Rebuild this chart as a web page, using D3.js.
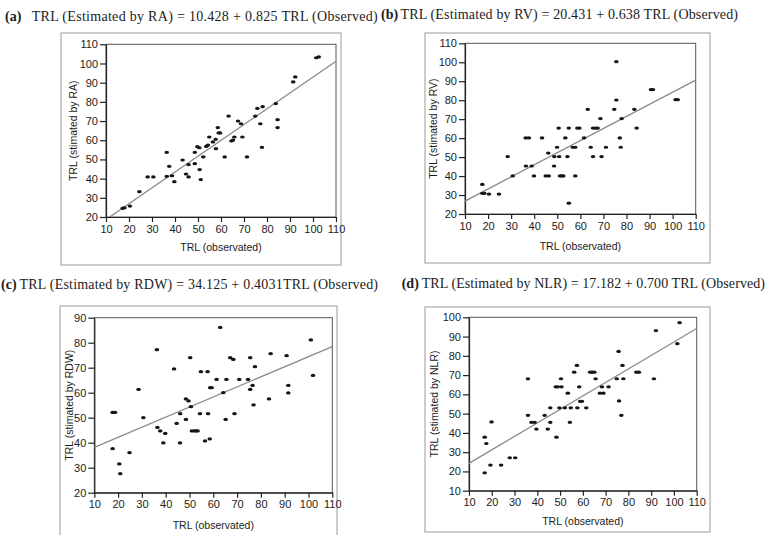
<!DOCTYPE html>
<html>
<head>
<meta charset="utf-8">
<script src="https://cdn.jsdelivr.net/npm/d3@7"></script>
<style>
  body { margin: 0; background: #fff; }
  text { fill: #1c1c1c; }
</style>
</head>
<body>
<div id="chart-area"></div>
<script>
// observed TRL (x) and estimated TRL (y)
var obsA = [17.2, 18, 20.4, 24.5, 28.1, 30.6, 36.4, 36.4, 37.5, 38.7, 39.7, 43.3, 44.8, 45.9, 45.9,
  48.6, 48.6, 49.7, 50.6, 50.7, 51.2, 52.3, 53.6, 54.3, 54.9, 56.5, 57.8, 57.7, 58.6, 59, 59.6,
  61.6, 63.3, 64.5, 65.2, 65.8, 67.4, 68.7, 69.3, 71.3, 74.9, 75.8, 77.1, 77.8, 78.1, 83.8,
  84.6, 84.6, 91.4, 92.3, 101.4, 102.5];
var estA = [24.5, 24.8, 25.7, 33.2, 40.9, 40.9, 53.7, 41.2, 46.4, 41.5, 38.4, 49.7, 42.4, 40.9, 47.3,
  53.7, 47.8, 56.7, 56.1, 44.7, 39.5, 51.3, 56.8, 57.5, 61.7, 59.1, 55.6, 60.5, 66.6, 63.8, 63.8,
  51.3, 72.6, 59.6, 60.1, 61.7, 70, 68.6, 61.7, 51.3, 72.6, 76.6, 68.6, 56.3, 77.5, 79.1,
  70.7, 66.6, 90.4, 93, 103, 103.4];

var obsB = [17.5, 17.5, 18.4, 20.4, 24.7, 28.5, 30.7, 36.3, 37.7, 36.4, 38.9, 39.9, 43.4, 46.1, 45,
  46.3, 48.6, 48.7, 49.9, 50.6, 50.8, 51.2, 52, 52.6, 53.5, 54.4, 55, 55, 56.7, 57.8, 57.8,
  58.7, 59.6, 61.6, 63.2, 64.5, 65.5, 65.5, 66.6, 67.5, 68.7, 69.2, 71.1, 74.7, 75.6, 75.6,
  77.1, 77.5, 77.9, 83.4, 84.4, 90.6, 91.5, 101.3, 102.2];
var estB = [35.6, 30.9, 30.9, 30.5, 30.5, 50.3, 40.1, 60.1, 60.1, 45.3, 45.3, 40.1, 60.1, 52.1, 40.1,
  40.1, 45.3, 50.3, 55.2, 65.3, 50.3, 40.1, 40.1, 40.1, 60.1, 50.3, 65.3, 25.7, 55.2, 55.2, 40.1,
  65.3, 65.3, 60.1, 75.2, 55.2, 50.3, 65.3, 65.3, 65.3, 70.3, 50.3, 55.2, 75.2, 80.1, 100.3,
  60.1, 55.2, 70.3, 75.2, 65.3, 85.6, 85.6, 80.3, 80.3];

var obsC = [17.7, 18.7, 17.7, 20.5, 20.9, 24.8, 28.6, 30.6, 36.3, 36.5, 37.7, 39, 39.8, 43.5, 44.6,
  46, 46.1, 48.5, 48.5, 49.6, 50.3, 50.6, 51, 52, 52.7, 53.4, 54.4, 54.8, 56.5, 57.6, 57.8,
  58.5, 58.7, 59.3, 61.4, 62.9, 64.2, 65.2, 65.5, 67.1, 68.4, 68.9, 70.9, 74.6, 75.5, 75.5,
  76.5, 76.9, 77.5, 83.4, 84.1, 90.8, 91.5, 91.5, 101, 101.9];
var estC = [52.1, 52.1, 37.6, 31.5, 27.6, 36, 61.3, 50, 77.2, 46.1, 44.7, 39.9, 43.7, 69.5, 47.7,
  39.9, 51.6, 49.3, 57.5, 56.7, 74, 54.4, 44.7, 44.7, 44.7, 44.7, 51.6, 68.4, 40.7, 68.4, 51.6,
  41.5, 62, 62, 65.3, 86.1, 60, 49.3, 65.3, 74, 73.3, 51.6, 65.3, 65.3, 74, 61.3,
  62.9, 55.1, 70.4, 57.5, 75.6, 74.8, 62.9, 59.9, 81.1, 66.9];

var obsD = [16.9, 17.6, 16.9, 19.4, 19.9, 24.1, 27.9, 30.3, 35.9, 35.9, 37.4, 38.8, 39.6, 43.2, 44.6,
  45.7, 45.7, 48.4, 48.1, 49, 49.7, 50.4, 50.6, 52.1, 53.4, 54.3, 54.7, 56.2, 57.4, 57.6, 58.4,
  58.8, 59.6, 61.5, 63.2, 64.1, 65, 65.6, 67.5, 69, 68.4, 71.3, 74.9, 75.7, 75.9, 76.9,
  77.4, 77.8, 83.5, 84.6, 91.2, 92.1, 101.5, 102.5];
var estD = [37.8, 34.5, 19.3, 23.3, 45.7, 23.3, 27.1, 27.1, 68.1, 49.1, 45.5, 45.5, 42, 49.1, 42,
  45.5, 53, 37.8, 63.9, 63.9, 53, 68.1, 63.9, 53, 60.6, 45.5, 53, 71.5, 75, 53, 63.9,
  56.4, 56.4, 53, 71.5, 71.5, 71.5, 68.1, 60.6, 60.6, 63.9, 63.9, 68.1, 82.3, 56.6, 49.1,
  75, 68.1, 71.5, 71.5, 68.1, 93.1, 86.3, 97.2];

// regression lines: [intercept, slope]
var fitA = [10.428, 0.825];
var fitB = [20.431, 0.638];
var fitC = [34.125, 0.4031];
var fitD = [17.182, 0.700];

var xTicks = [10, 20, 30, 40, 50, 60, 70, 80, 90, 100, 110];
var yTicksAB = [20, 30, 40, 50, 60, 70, 80, 90, 100, 110];
var yTicksC = [20, 30, 40, 50, 60, 70, 80, 90];
var yTicksD = [10, 20, 30, 40, 50, 60, 70, 80, 90, 100];

var panels = [
  { tag: "(a)", title: "TRL (Estimated by RA) = 10.428 + 0.825 TRL (Observed)", ylab: "TRL (stimated by RA)",
    obs: obsA, est: estA, fit: fitA, yDomain: [20, 110], yTicks: yTicksAB,
    tagX: 5, titleX: 31.7, titleW: 346, titleY: 21, frame: [61, 33, 341, 265],
    left: 106, right: 336, top: 44.3, bottom: 217, ylabX: 77, xlabY: 251 },
  { tag: "(b)", title: "TRL (Estimated by RV) = 20.431 + 0.638 TRL (Observed)", ylab: "TRL (stimated by RV)",
    obs: obsB, est: estB, fit: fitB, yDomain: [20, 110], yTicks: yTicksAB,
    tagX: 381, titleX: 400.5, titleW: 337.5, titleY: 19, frame: [425, 33, 710, 263],
    left: 465, right: 695.7, top: 43.3, bottom: 214, ylabX: 437, xlabY: 250 },
  { tag: "(c)", title: "TRL (Estimated by RDW) = 34.125 + 0.4031TRL (Observed)", ylab: "TRL (stimated by RDW)",
    obs: obsC, est: estC, fit: fitC, yDomain: [20, 90], yTicks: yTicksC,
    tagX: 1, titleX: 19.5, titleW: 358.5, titleY: 289, frame: [60, 306, 337, 545],
    left: 94.3, right: 332.3, top: 317.7, bottom: 492.7, ylabX: 73, xlabY: 529 },
  { tag: "(d)", title: "TRL (Estimated by NLR) = 17.182 + 0.700 TRL (Observed)", ylab: "TRL (stimated by NLR)",
    obs: obsD, est: estD, fit: fitD, yDomain: [10, 100], yTicks: yTicksD,
    tagX: 401.7, titleX: 421.7, titleW: 343.3, titleY: 288, frame: [425, 307, 710, 532],
    left: 469, right: 696.7, top: 317.3, bottom: 490.7, ylabX: 438, xlabY: 525 }
];

var svg = d3.select("#chart-area")
  .append("svg")
  .attr("width", 771)
  .attr("height", 535);

panels.forEach(function(p, i) {
  var g = svg.append("g");

  // thin frame round the figure
  g.append("rect")
    .attr("x", p.frame[0])
    .attr("y", p.frame[1])
    .attr("width", p.frame[2] - p.frame[0])
    .attr("height", p.frame[3] - p.frame[1])
    .attr("fill", "none")
    .attr("stroke", "#9a9a9a")
    .attr("stroke-width", 1);

  // title: bold tag, then the fitted equation
  g.append("text")
    .attr("x", p.tagX)
    .attr("y", p.titleY)
    .attr("font-family", "'Liberation Serif', 'Times New Roman', serif")
    .attr("font-size", "14px")
    .attr("font-weight", "bold")
    .text(p.tag);

  g.append("text")
    .attr("x", p.titleX)
    .attr("y", p.titleY)
    .attr("font-family", "'Liberation Serif', 'Times New Roman', serif")
    .attr("font-size", "14px")
    .attr("textLength", p.titleW)
    .attr("lengthAdjust", "spacing")
    .text(p.title);

  var x = d3.scaleLinear().domain([10, 110]).range([p.left, p.right]);
  var y = d3.scaleLinear().domain(p.yDomain).range([p.bottom, p.top]);

  // plot box
  g.append("rect")
    .attr("x", p.left)
    .attr("y", p.top)
    .attr("width", p.right - p.left)
    .attr("height", p.bottom - p.top)
    .attr("fill", "none")
    .attr("stroke", "#555")
    .attr("stroke-width", 1);

  var xAxis = g.append("g")
    .attr("transform", "translate(0," + p.bottom + ")")
    .call(d3.axisBottom(x).tickValues(xTicks).tickSize(5).tickPadding(3).tickSizeOuter(0));

  var yAxis = g.append("g")
    .attr("transform", "translate(" + p.left + ",0)")
    .call(d3.axisLeft(y).tickValues(p.yTicks).tickSize(6).tickPadding(2).tickSizeOuter(0));

  [xAxis, yAxis].forEach(function(a) {
    a.selectAll("path, line").attr("stroke", "#222").attr("stroke-width", 1.2);
    a.selectAll("text")
      .attr("font-family", "'Liberation Sans', Arial, sans-serif")
      .attr("font-size", "11px")
      .attr("fill", "#1c1c1c");
  });

  // axis titles
  g.append("text")
    .attr("x", (p.left + p.right) / 2)
    .attr("y", p.xlabY)
    .attr("text-anchor", "middle")
    .attr("font-family", "'Liberation Sans', Arial, sans-serif")
    .attr("font-size", "10.5px")
    .text("TRL (observated)");

  g.append("text")
    .attr("transform", "translate(" + p.ylabX + "," + ((p.top + p.bottom) / 2) + ") rotate(-90)")
    .attr("text-anchor", "middle")
    .attr("font-family", "'Liberation Sans', Arial, sans-serif")
    .attr("font-size", "10.5px")
    .text(p.ylab);

  // fitted line, clipped to the plot box
  g.append("clipPath")
    .attr("id", "clip" + i)
    .append("rect")
    .attr("x", p.left)
    .attr("y", p.top)
    .attr("width", p.right - p.left)
    .attr("height", p.bottom - p.top);

  var line = d3.line()
    .x(function(d) { return x(d); })
    .y(function(d) { return y(p.fit[0] + p.fit[1] * d); });

  g.append("path")
    .datum([10, 110])
    .attr("d", line)
    .attr("clip-path", "url(#clip" + i + ")")
    .attr("fill", "none")
    .attr("stroke", "#8a8a8a")
    .attr("stroke-width", 1.3);

  // points
  g.selectAll(".pt")
    .data(p.obs)
    .enter()
    .append("ellipse")
    .attr("class", "pt")
    .attr("cx", function(d) { return x(d); })
    .attr("cy", function(d, j) { return y(p.est[j]); })
    .attr("rx", 2.3)
    .attr("ry", 1.6)
    .attr("fill", "#151515");
});
</script>
</body>
</html>
